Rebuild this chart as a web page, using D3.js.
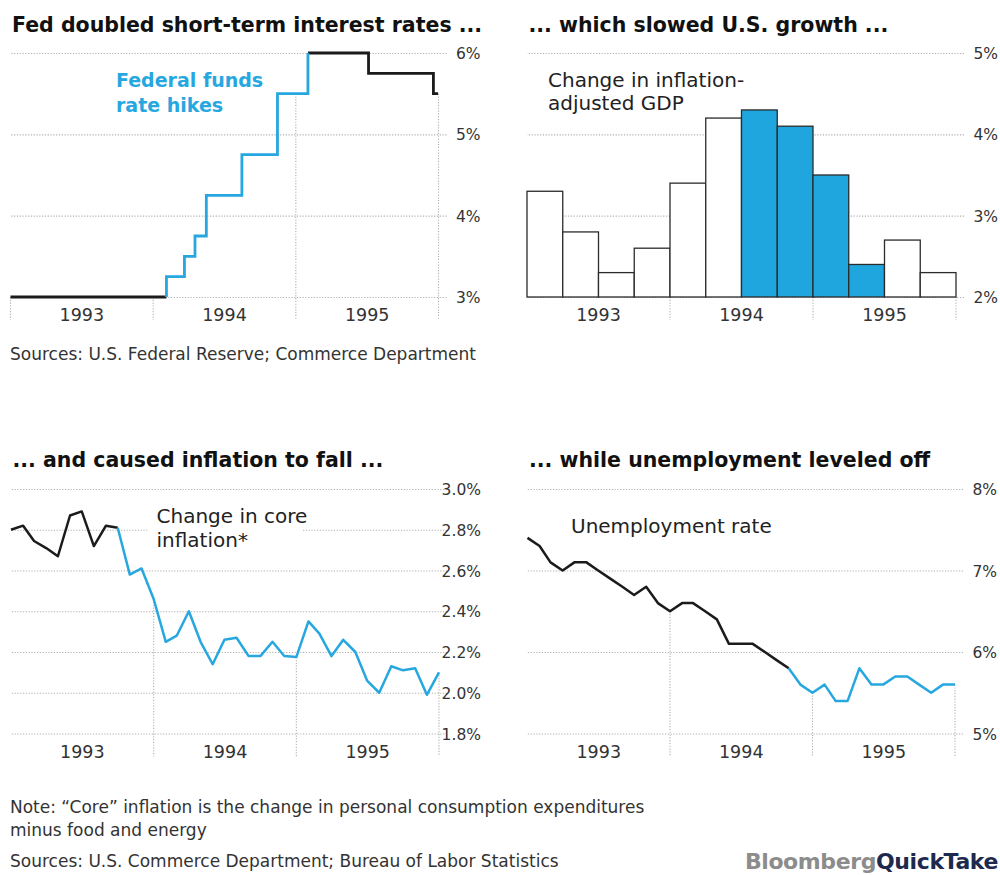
<!DOCTYPE html>
<html>
<head>
<meta charset="utf-8">
<title>Fed rate hikes, growth, inflation and unemployment, 1993–1995</title>
<script src="https://cdn.jsdelivr.net/npm/d3@7/dist/d3.min.js"></script>
<style>
  html, body { margin: 0; background: #fff; }
  svg { display: block; font-family: "DejaVu Sans", "Open Sans", sans-serif; }
  .title { font-weight: bold; font-size: 20.5px; fill: #111; }
  .note { font-size: 20px; fill: #222; }
  .hikes { font-weight: bold; font-size: 19px; }
  .yaxis text { font-size: 15.5px; fill: #333; }
  .xaxis text { font-size: 17.5px; fill: #333; }
  .foot { font-size: 17px; fill: #333; }
  .logo { font-weight: bold; font-size: 22px; letter-spacing: -0.4px; }
</style>
</head>
<body>
<svg id="chart" width="1000" height="875"></svg>
<script>
// ---- Federal funds target rate (date of each change, new level in %) ----
const fedDates = ["1993-01-01", "1994-02-04", "1994-03-22", "1994-04-18", "1994-05-17",
                  "1994-08-16", "1994-11-15", "1995-02-01", "1995-07-06", "1995-12-19", "1995-12-31"];
const fedRates = [3.00, 3.25, 3.50, 3.75, 4.25, 4.75, 5.50, 6.00, 5.75, 5.50, 5.50];
const hikeStart = "1994-02-04";
const hikeEnd = "1995-02-01";
const fedTicks = [3, 4, 5, 6];

// ---- Real GDP growth by quarter (%) ----
const gdpQuarters = ["1993 Q1", "1993 Q2", "1993 Q3", "1993 Q4",
                     "1994 Q1", "1994 Q2", "1994 Q3", "1994 Q4",
                     "1995 Q1", "1995 Q2", "1995 Q3", "1995 Q4"];
const gdpGrowth = [3.3, 2.8, 2.3, 2.6, 3.4, 4.2, 4.3, 4.1, 3.5, 2.4, 2.7, 2.3];
const gdpHighlight = ["1994 Q3", "1994 Q4", "1995 Q1", "1995 Q2"];
const gdpTicks = [2, 3, 4, 5];

// ---- Monthly series, Dec 1992 – Dec 1995 ----
const firstMonth = "1992-12";
const lastMonth = "1995-12";
const coreInflation = [2.80, 2.82, 2.745, 2.71, 2.67, 2.87, 2.89, 2.72, 2.82, 2.81,
                       2.58, 2.61, 2.46, 2.25, 2.28, 2.40, 2.25, 2.14, 2.26, 2.27,
                       2.18, 2.18, 2.25, 2.18, 2.175, 2.35, 2.29, 2.18, 2.26, 2.20,
                       2.06, 2.00, 2.13, 2.11, 2.12, 1.99, 2.10];
const coreTurn = "1993-09";
const coreTicks = [1.8, 2.0, 2.2, 2.4, 2.6, 2.8, 3.0];

const unemployment = [7.4, 7.3, 7.1, 7.0, 7.1, 7.1, 7.0, 6.9, 6.8, 6.7,
                      6.8, 6.6, 6.5, 6.6, 6.6, 6.5, 6.4, 6.1, 6.1, 6.1,
                      6.0, 5.9, 5.8, 5.6, 5.5, 5.6, 5.4, 5.4, 5.8, 5.6,
                      5.6, 5.7, 5.7, 5.6, 5.5, 5.6, 5.6];
const unempTurn = "1994-10";
const unempTicks = [5, 6, 7, 8];

const years = ["1993", "1994", "1995"];
const yearStarts = ["1993-01-01", "1994-01-01", "1995-01-01", "1996-01-01"];

// ---- styling ----
const INK = "#1b1b1b";
const BLUE = "#27a7df";
const GRID = "#b0b0b0";
const svg = d3.select("#chart");
const parseDay = d3.timeParse("%Y-%m-%d");
const parseMonth = d3.timeParse("%Y-%m");
const months = d3.timeMonth.range(parseMonth(firstMonth), d3.timeMonth.offset(parseMonth(lastMonth), 1));
// each monthly reading is plotted at the close of its month
const monthEnd = m => d3.timeMonth.offset(m, 1);

// Shared panel furniture: title, dotted gridlines with right-hand labels, year labels
function panel({ title, titleY, x0, x1, y, ticks, fmt }) {
  const g = svg.append("g");
  g.append("text").attr("class", "title").attr("x", x0 + 1.5).attr("y", titleY).text(title);

  const grid = g.append("g").attr("class", "yaxis")
    .attr("transform", `translate(${x1 + 8},0)`)
    .call(d3.axisRight(y).tickValues(ticks).tickFormat(fmt)
      .tickSizeInner(-(x1 + 8 - x0)).tickSizeOuter(0).tickPadding(0))
    .attr("font-family", null).attr("font-size", null);
  grid.select(".domain").remove();
  grid.selectAll("line").attr("stroke", GRID).attr("stroke-width", 1.1).attr("stroke-dasharray", "1.2 1.6");
  grid.selectAll("text").attr("x", 34).attr("text-anchor", "end").attr("dy", "0.36em").attr("fill", null);

  const yearBand = d3.scaleBand().domain(years).range([x0, x1]);
  const xa = g.append("g").attr("class", "xaxis")
    .attr("transform", `translate(0,${y.range()[0]})`)
    .call(d3.axisBottom(yearBand).tickSize(0).tickPadding(0))
    .attr("font-family", null).attr("font-size", null);
  xa.select(".domain").remove();
  xa.selectAll("text").attr("y", 24).attr("dy", null).attr("fill", null);

  return {
    drops: g.append("g"),
    backs: g.append("g"),
    marks: g.append("g"),
    notes: g.append("g")
  };
}

// dotted drop line from a value down past the baseline
function drop(layer, x, yTop, yBase) {
  layer.append("line")
    .attr("x1", x).attr("x2", x).attr("y1", yTop).attr("y2", yBase + 23)
    .attr("stroke", GRID).attr("stroke-width", 1.1).attr("stroke-dasharray", "1.2 1.6");
}

// multi-line annotation; optional white backing that interrupts gridlines
function note(layers, lines, x, y0, lh, cls, color, backed) {
  const t = layers.notes.append("text").attr("class", cls).attr("fill", color);
  lines.forEach((s, i) => t.append("tspan").attr("x", x).attr("y", y0 + i * lh).text(s));
  if (backed) {
    const b = t.node().getBBox();
    layers.backs.append("rect")
      .attr("x", b.x - 9).attr("y", b.y - 4).attr("width", b.width + 4).attr("height", b.height + 8)
      .attr("fill", "#fff");
  }
}

const lineGen = (x, y, key) => d3.line().x(d => x(d.date)).y(d => y(d[key]));

// ================= Top left: federal funds rate =================
{
  const x = d3.scaleTime().domain([parseDay("1993-01-01"), parseDay("1996-01-01")]).range([10.5, 438.5]);
  const y = d3.scaleLinear().domain([3, 6]).range([297, 53]);
  const L = panel({ title: "Fed doubled short-term interest rates ...", titleY: 31.5,
                    x0: 10.5, x1: 438.5, y, ticks: fedTicks, fmt: d => d + "%" });

  const fed = fedDates.map((d, i) => ({ date: parseDay(d), rate: fedRates[i] }));
  const hs = +parseDay(hikeStart), he = +parseDay(hikeEnd);
  const iS = fed.findIndex(d => +d.date === hs);
  const iE = fed.findIndex(d => +d.date === he);
  const pivot = { date: fed[iS].date, rate: fed[iS - 1].rate };
  const before = fed.slice(0, iS).concat([pivot]);
  const hikes = [pivot].concat(fed.slice(iS, iE + 1));
  const after = fed.slice(iE);

  const rateAt = dt => fed.filter(d => d.date <= dt).pop().rate;
  drop(L.drops, x(parseDay(yearStarts[0])), y(3), y(3));
  yearStarts.slice(1).forEach(s => {
    const dt = parseDay(s);
    drop(L.drops, x(dt), y(rateAt(dt)), y(3));
  });

  const step = lineGen(x, y, "rate").curve(d3.curveStepAfter);
  [[before, INK], [after, INK], [hikes, BLUE]].forEach(([data, c]) => {
    L.marks.append("path").attr("d", step(data)).attr("fill", "none")
      .attr("stroke", c).attr("stroke-width", 2.8);
  });

  note(L, ["Federal funds", "rate hikes"], 116, 87, 24.5, "hikes", BLUE, false);
}

// ================= Top right: GDP growth =================
{
  const x = d3.scaleBand().domain(gdpQuarters).range([527, 956]);
  const y = d3.scaleLinear().domain([2, 5]).range([297, 53]);
  const L = panel({ title: "... which slowed U.S. growth ...", titleY: 31.5,
                    x0: 527, x1: 956, y, ticks: gdpTicks, fmt: d => d + "%" });

  [4, 8, 12].forEach(i => drop(L.drops, 527 + i * x.step(), y(2), y(2)));

  L.marks.selectAll("rect").data(gdpQuarters).join("rect")
    .attr("x", q => x(q)).attr("width", x.bandwidth())
    .attr("y", (q, i) => y(gdpGrowth[i]))
    .attr("height", (q, i) => y(2) - y(gdpGrowth[i]))
    .attr("fill", q => gdpHighlight.includes(q) ? "#20a6df" : "#fff")
    .attr("stroke", "#2b2b2b").attr("stroke-width", 1.3);

  note(L, ["Change in inflation-", "adjusted GDP"], 548, 87, 23, "note", "#222", false);
}

// ================= Bottom left: core inflation =================
{
  const x = d3.scaleTime().domain([parseDay("1993-01-01"), parseDay("1996-01-01")]).range([11, 439]);
  const y = d3.scaleLinear().domain([1.8, 3.0]).range([733.5, 489]);
  const L = panel({ title: "... and caused inflation to fall ...", titleY: 467,
                    x0: 11, x1: 439, y, ticks: coreTicks, fmt: d => d3.format(".1f")(d) + "%" });

  const pts = months.map((m, i) => ({ date: monthEnd(m), v: coreInflation[i] }));
  const k = months.findIndex(m => +m === +parseMonth(coreTurn));

  yearStarts.slice(1).forEach(s => {
    const p = pts.find(d => +d.date === +parseDay(s));
    drop(L.drops, x(p.date), y(p.v), y(1.8));
  });

  const ln = lineGen(x, y, "v");
  [[pts.slice(0, k + 1), INK], [pts.slice(k), BLUE]].forEach(([data, c]) => {
    L.marks.append("path").attr("d", ln(data)).attr("fill", "none")
      .attr("stroke", c).attr("stroke-width", 2.5).attr("stroke-linejoin", "round");
  });

  note(L, ["Change in core", "inflation*"], 156.5, 522.5, 24.5, "note", "#222", true);
}

// ================= Bottom right: unemployment =================
{
  const x = d3.scaleTime().domain([parseDay("1993-01-01"), parseDay("1996-01-01")]).range([527.5, 955]);
  const y = d3.scaleLinear().domain([5, 8]).range([733.5, 489]);
  const L = panel({ title: "... while unemployment leveled off", titleY: 467,
                    x0: 527.5, x1: 955, y, ticks: unempTicks, fmt: d => d + "%" });

  const pts = months.map((m, i) => ({ date: monthEnd(m), v: unemployment[i] }));
  const k = months.findIndex(m => +m === +parseMonth(unempTurn));

  yearStarts.slice(1).forEach(s => {
    const p = pts.find(d => +d.date === +parseDay(s));
    drop(L.drops, x(p.date), y(p.v), y(5));
  });

  const ln = lineGen(x, y, "v");
  [[pts.slice(0, k + 1), INK], [pts.slice(k), BLUE]].forEach(([data, c]) => {
    L.marks.append("path").attr("d", ln(data)).attr("fill", "none")
      .attr("stroke", c).attr("stroke-width", 2.5).attr("stroke-linejoin", "round");
  });

  note(L, ["Unemployment rate"], 571, 533, 24, "note", "#222", false);
}

// ================= Footnotes and credit =================
const foot = [
  ["Sources: U.S. Federal Reserve; Commerce Department", 360],
  ["Note: \u201cCore\u201d inflation is the change in personal consumption expenditures", 813],
  ["minus food and energy", 836],
  ["Sources: U.S. Commerce Department; Bureau of Labor Statistics", 867]
];
svg.append("g").selectAll("text").data(foot).join("text")
  .attr("class", "foot").attr("x", 10).attr("y", d => d[1]).text(d => d[0]);

const logo = svg.append("text").attr("class", "logo").attr("x", 998).attr("y", 869).attr("text-anchor", "end");
logo.append("tspan").attr("fill", "#8c8c8c").text("Bloomberg");
logo.append("tspan").attr("fill", "#1d2a4d").text("QuickTake");
</script>
</body>
</html>
